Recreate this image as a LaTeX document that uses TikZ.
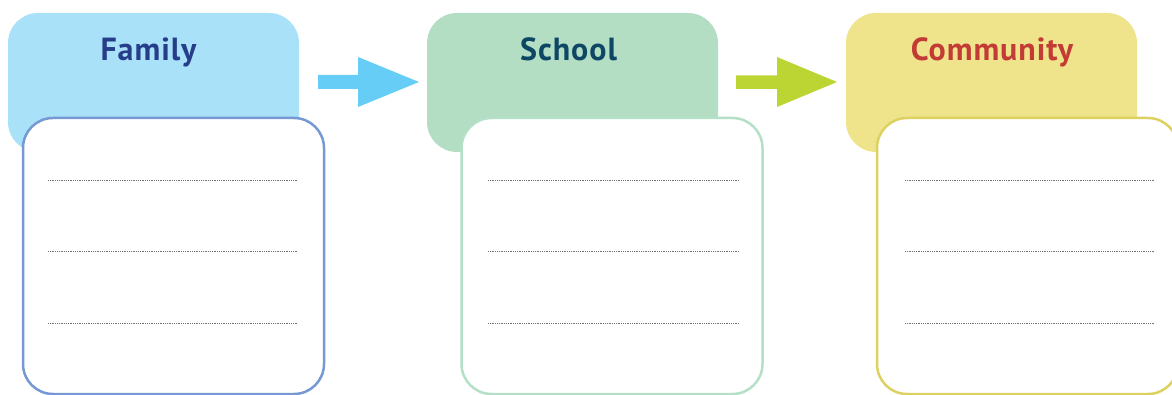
\documentclass[tikz,border=0pt]{standalone}
\usepackage{fontspec}
\setmainfont{PT Sans}
\definecolor{famfill}{HTML}{A9E1F9}
\definecolor{famtext}{HTML}{263E8A}
\definecolor{famline}{HTML}{7799D3}
\definecolor{famarrow}{HTML}{66CEF6}
\definecolor{schfill}{HTML}{B3DEC4}
\definecolor{schtext}{HTML}{0E4764}
\definecolor{schline}{HTML}{B3E0C6}
\definecolor{comfill}{HTML}{EFE48C}
\definecolor{comtext}{HTML}{C33B35}
\definecolor{comline}{HTML}{DDD162}
\definecolor{comarrow}{HTML}{BCD532}
\begin{document}
\begin{tikzpicture}[x=1pt,y=-1pt,
  header/.style={rectangle, rounded corners=30pt, minimum width=291pt, minimum height=139pt, inner sep=0pt, draw=none},
  writebox/.style={rectangle, rounded corners=30pt, minimum width=301pt, minimum height=276pt, inner sep=0pt, fill=white, line width=2.5pt},
  title/.style={font=\fontsize{32}{32}\selectfont\bfseries\addfontfeature{LetterSpace=3}, anchor=base},
  writeline/.style={draw=black!55, line width=0.8pt, dash pattern=on 0.7pt off 1.1pt}
]
\useasboundingbox (0,0) rectangle (1172,395);
% headers
\node[header, fill=famfill] (h1) at (153.5,82.5) {};
\node[header, fill=schfill] (h2) at (572.5,82.5) {};
\node[header, fill=comfill] (h3) at (991.5,82.5) {};
% titles
\node[title, text=famtext] (t1) at (148.5,61) {Family};
\node[title, text=schtext] (t2) at (568.5,61) {School};
\node[title, text=comtext] (t3) at (992,61) {Community};
% boxes
\node[writebox, draw=famline] (b1) at (173.5,256) {};
\node[writebox, draw=schline] (b2) at (612,256) {};
\node[writebox, draw=comline] (b3) at (1027.5,256) {};
% writing lines
\foreach \y in {180,251,323}{
  \draw[writeline] (48,\y) -- (298,\y);
  \draw[writeline] (488,\y) -- (739,\y);
  \draw[writeline] (905,\y) -- (1154,\y);
}
% arrows
\fill[famarrow] (318,75) -- (358,75) -- (358,57) -- (419,82) -- (358,107) -- (358,89) -- (318,89) -- cycle;
\fill[comarrow] (736,75.5) -- (777,75.5) -- (777,57) -- (837,82) -- (777,107) -- (777,89) -- (736,89) -- cycle;
\end{tikzpicture}
\end{document}
